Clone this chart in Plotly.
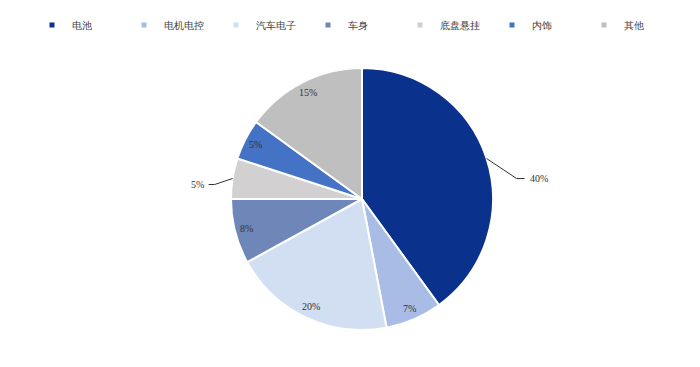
import math
import plotly.graph_objects as go

categories = ["电池", "电机电控", "汽车电子", "车身", "底盘悬挂", "内饰", "其他"]
values = [40, 7, 20, 8, 5, 5, 15]
colors = ["#0a318c", "#a8bce6", "#d2def2", "#6e86b8", "#d2d0d1", "#4472c4", "#bfbfbf"]
outside = [True, False, False, False, True, False, False]

W, H = 700, 367
L, T = 0, 60
pw, ph = 700, 262
R, B = W - L - pw, H - T - ph
radius = ph / 2.0
cx, cy = 354.0, T + ph / 2.0

FONT = "Liberation Serif"

fig = go.Figure()
fig.add_trace(go.Pie(
    labels=categories,
    values=values,
    sort=False,
    direction="clockwise",
    rotation=0,
    marker=dict(colors=colors, line=dict(color="white", width=2)),
    textinfo="none",
    showlegend=False,
    hoverinfo="label+percent",
    domain=dict(x=[(cx - radius - L) / pw, (cx + radius - L) / pw], y=[0, 1]),
))

# legend entries (small square markers)
for c, col in zip(categories, colors):
    fig.add_trace(go.Scatter(x=[None], y=[None], mode="markers", name=c,
                             marker=dict(symbol="square", size=5, color=col)))

def to_paper(px, py):
    return (px - L) / pw, 1 - (py - T) / ph

total = float(sum(values))
cum = 0.0
offsets = {0: ((30, 20), (8, 0)), 4: ((-18, 6), (-6, 0))}
for i, v in enumerate(values):
    mid = (cum + v / 2.0) / total * 2 * math.pi
    cum += v
    if outside[i]:
        ex = cx + radius * math.sin(mid)
        ey = cy - radius * math.cos(mid)
        (d1x, d1y), (d2x, d2y) = offsets[i]
        p0 = to_paper(ex, ey)
        p1 = to_paper(ex + d1x, ey + d1y)
        p2 = to_paper(ex + d1x + d2x, ey + d1y + d2y)
        fig.add_shape(type="path", xref="paper", yref="paper",
                      path=f"M{p0[0]},{p0[1]} L{p1[0]},{p1[1]} L{p2[0]},{p2[1]}",
                      line=dict(color="#333333", width=1))
        fig.add_annotation(xref="paper", yref="paper", x=p2[0], y=p2[1],
                           text=f"{v}%", showarrow=False,
                           xanchor="left" if d2x > 0 else "right", yanchor="middle",
                           xshift=3 if d2x > 0 else -3,
                           font=dict(family=FONT, size=10, color="#333333"))
    else:
        r = 0.91 * radius
        px = cx + r * math.sin(mid)
        py = cy - r * math.cos(mid)
        p = to_paper(px, py)
        fig.add_annotation(xref="paper", yref="paper", x=p[0], y=p[1],
                           text=f"{v}%", showarrow=False,
                           xanchor="center", yanchor="middle",
                           font=dict(family=FONT, size=10, color="#333333"))

fig.update_layout(
    width=W, height=H,
    margin=dict(l=L, r=R, t=T, b=B, autoexpand=False),
    paper_bgcolor="white", plot_bgcolor="white",
    xaxis=dict(visible=False), yaxis=dict(visible=False),
    font=dict(family=FONT, size=10, color="#404040"),
    legend=dict(orientation="h", x=(24 - L) / pw, y=1 + (T - 17) / ph,
                xanchor="left", yanchor="middle",
                entrywidth=47, entrywidthmode="pixels",
                font=dict(family=FONT, size=10, color="#404040"),
                itemclick=False),
)

fig.write_html("out.html")
